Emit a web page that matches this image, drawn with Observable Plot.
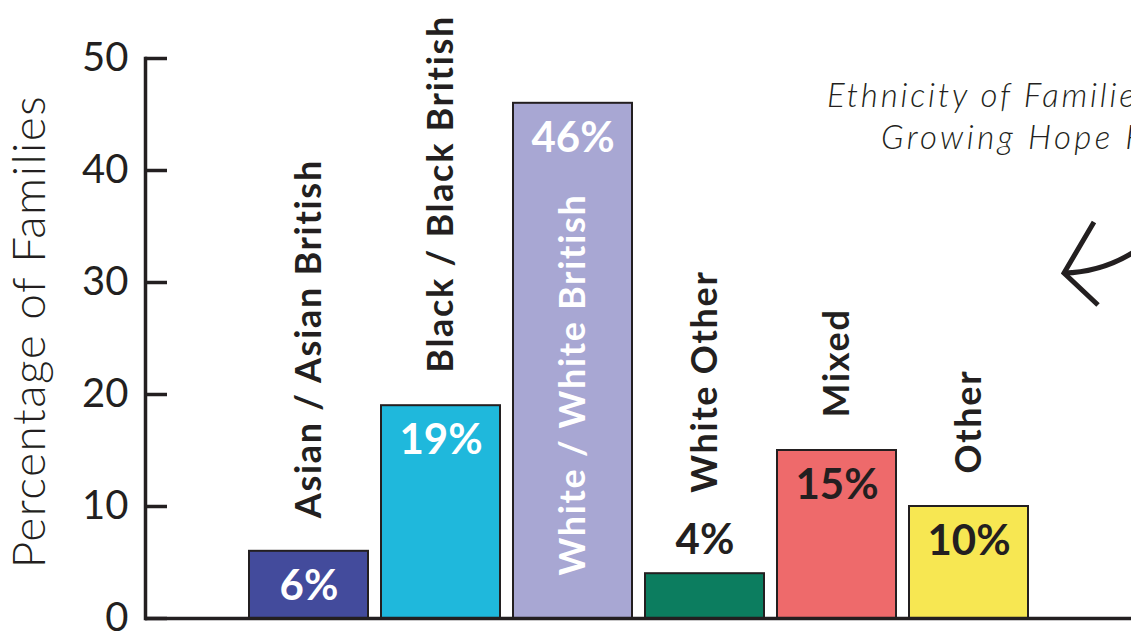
<!DOCTYPE html>
<html>
<head>
<meta charset="utf-8">
<script src="https://cdn.jsdelivr.net/npm/d3@7"></script>
<script src="https://cdn.jsdelivr.net/npm/@observablehq/plot@0.6"></script>
<style>
  html, body { margin: 0; padding: 0; background: #ffffff; overflow: hidden; }
  #chart svg { display: block; }
</style>
</head>
<body>
<div id="chart"></div>
<script>
// ---- data ----
const categories = ["Asian / Asian British", "Black / Black British", "White / White British", "White Other", "Mixed", "Other"];
const values = [6, 19, 46, 4, 15, 10];
const yTicks = [0, 10, 20, 30, 40, 50];
const titleLines = ["Ethnicity of Families at", "Growing Hope Foundation"];
const yLabel = "Percentage of Families";

// ---- styles ----
const palette = ["#434b9c", "#1fb8dc", "#a8a7d3", "#0c7d5f", "#ee6a6b", "#f7e752"];
const pctInk = ["#ffffff", "#ffffff", "#ffffff", "#231f20", "#231f20", "#231f20"];
const ink = "#231f20";
const W = 1131, H = 635;
const mL = 145, mR = 0, mT = 58, mB = 17;
const boldFont = "Lato, 'Noto Sans', sans-serif";

const rows = categories.map((c, i) => ({category: c, value: values[i], i}));
const maxV = d3.max(values);
const inside = d => d.value >= 5;          // percentage label inside bar
const tallest = d => d.value === maxV;     // category label inside bar

const catStyle = {x: "category", text: "category", rotate: -90, textAnchor: "start", lineAnchor: "middle",
                  fontSize: 36, fontWeight: 700, fontFamily: boldFont};
const pctStyle = {x: "category", y: "value", text: d => d.value + "%", lineAnchor: "middle",
                  fill: d => pctInk[d.i], fontSize: 42, fontWeight: 700, fontFamily: boldFont};

const chart = Plot.plot({
  width: W, height: H,
  marginLeft: mL, marginRight: mR, marginTop: mT, marginBottom: mB,
  style: {fontFamily: "Lato, 'Noto Sans', sans-serif", color: ink, background: "#fff", overflow: "visible"},
  x: {domain: categories, paddingInner: 0.1, paddingOuter: 0.78, axis: null},
  y: {domain: [0, 50], axis: null},
  color: {domain: categories, range: palette},
  marks: [
    Plot.barY(rows, {x: "category", y: "value", fill: "category", stroke: ink, strokeWidth: 2}),
    // axis lines and ticks
    Plot.ruleY([0], {stroke: ink, strokeWidth: 3.5}),
    Plot.frame({anchor: "left", stroke: ink, strokeWidth: 3.5}),
    Plot.tickY(yTicks, {y: d => d, stroke: ink, strokeWidth: 3.5, insetRight: W - mL - mR - 22}),
    Plot.axisY({ticks: yTicks, tickSize: 0, tickPadding: 17, fontSize: 40, fontWeight: 400, label: null, fill: ink}),
    // percentage labels
    Plot.text(rows, {...pctStyle, filter: inside, dy: 35}),
    Plot.text(rows, {...pctStyle, filter: d => !inside(d), dy: -33}),
    // category labels (rotated)
    Plot.text(rows, {...catStyle, filter: d => !tallest(d) && inside(d), y: "value", dy: -33, fill: ink}),
    Plot.text(rows, {...catStyle, filter: d => !tallest(d) && !inside(d), y: "value", dy: -81, fill: ink}),
    Plot.text(rows, {...catStyle, filter: tallest, y: 0, dy: -43, fill: "#ffffff"}),
    // y label
    Plot.text([yLabel], {frameAnchor: "left", textAnchor: "middle", dx: -115, dy: -7, rotate: -90,
                         fontSize: 46, fontWeight: 300, fill: ink})
  ]
});

document.getElementById("chart").appendChild(chart);
const svg = d3.select(chart);

// letter spacing for the rounded-looking labels
svg.selectAll("text").filter(function() { return categories.includes(this.textContent); })
  .style("letter-spacing", "1.7px");
svg.selectAll("text").filter(function() { return this.textContent === yLabel; })
  .style("letter-spacing", "1.5px");

// ---- title (annotation, partly beyond the right edge as in the reference) ----
const titleG = svg.append("g")
  .attr("font-family", "Lato, 'Noto Sans', sans-serif")
  .attr("font-style", "italic")
  .attr("font-weight", 300)
  .attr("font-size", 33)
  .attr("letter-spacing", 2.8)
  .attr("text-anchor", "start")
  .attr("fill", ink);
titleG.append("text").attr("x", 827).attr("y", 107).text(titleLines[0]);
titleG.append("text").attr("x", 881).attr("y", 149).attr("letter-spacing", 3.4).text(titleLines[1]);

// ---- annotation arrow ----
svg.append("path")
  .attr("d", "M1140,248 Q1105,272 1064,273")
  .attr("fill", "none").attr("stroke", ink).attr("stroke-width", 5);
svg.append("path")
  .attr("d", "M1094,222 L1064,273 L1098,305")
  .attr("fill", "none").attr("stroke", ink).attr("stroke-width", 5).attr("stroke-linejoin", "miter");
</script>
</body>
</html>
